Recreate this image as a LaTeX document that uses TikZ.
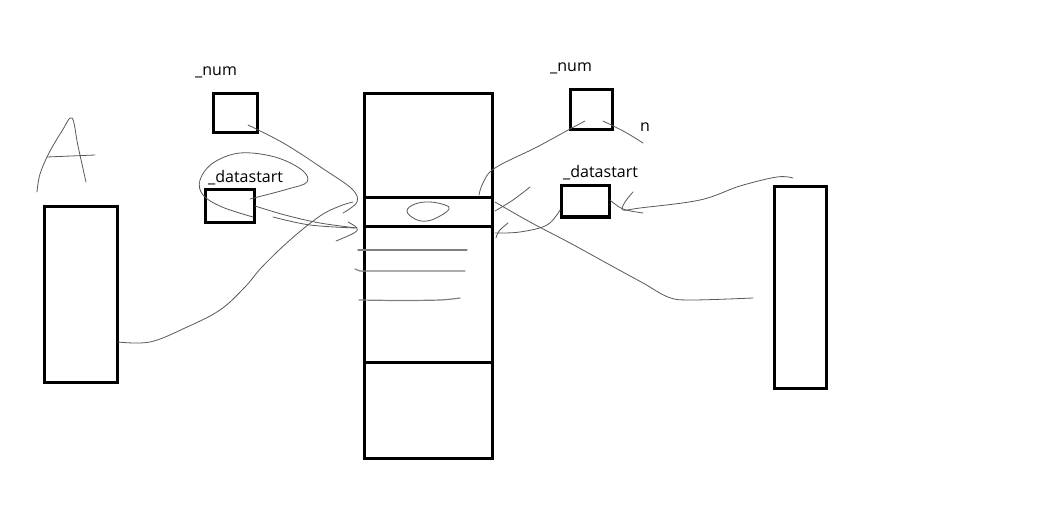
\documentclass[tikz,border=0pt]{standalone}
\usepackage{fontspec}
\setmainfont{Open Sans}
\begin{document}
\begin{tikzpicture}[x=1pt,y=-1pt,
  box/.style={draw=black,line width=3pt},
  pen/.style={draw=black!65,line width=0.8pt,line cap=round,line join=round},
  rule/.style={draw=black!50,line width=1.2pt,line cap=round},
  lbl/.style={anchor=base west,inner sep=0pt,font=\fontsize{16}{18}\selectfont}]
\useasboundingbox[fill=white] (0,0) rectangle (1049,513);
% boxes
\draw[box] (44,207) rectangle (117,382);       % A array
\draw[box] (213,94) rectangle (257,133);       % left _num
\draw[box] (205,190) rectangle (254,222);      % left _datastart
\draw[box] (364,94) rectangle (492,458);       % centre column
\draw[box] (364,198) -- (492,198);
\draw[box] (364,226) -- (492,226);
\draw[box] (364,362) -- (492,362);
\draw[box] (570,90) rectangle (612,130);       % right _num
\draw[box] (561,186) rectangle (609,217);      % right _datastart
\draw[box] (774,187) rectangle (826,388);      % right array
% labels
\node[lbl] (n1) at (195,76) {\_num};
\node[lbl] (d1) at (208,183) {\_datastart};
\node[lbl] (n2) at (550,72) {\_num};
\node[lbl] (d2) at (563,178) {\_datastart};
\node[lbl] (nn) at (640,132) {n};
% hand drawn A
\draw[pen] plot[smooth,tension=0.6] coordinates {(37,192) (40,174) (49,153) (62,131) (72,118) (78,146) (86,182)};
\draw[pen] (47,157) -- (95,155);
% blob
\draw[pen] plot[smooth cycle,tension=0.7] coordinates {(407,211) (415,204) (430,202) (445,205) (449,209) (440,216) (427,221) (415,219)};
% lines in the box
\draw[rule] (358,250) -- (467,250);
\draw[rule] (355,269) -- (360,271) -- (465,271);
\draw[rule] plot[smooth] coordinates {(359,300) (400,300.5) (440,300) (460,298)};
% curves left
\draw[pen] plot[smooth,tension=0.6] coordinates {(248,125) (285,144) (325,170) (352,189) (357,202) (343,213)};
\draw[pen] plot[smooth,tension=0.6] coordinates {(253,217) (222,207) (203,195) (200,180) (213,163) (240,153) (275,157) (302,170) (307,182) (288,189) (250,199)};
\draw[pen] plot[smooth,tension=0.6] coordinates {(255,206) (285,215) (320,223) (357,228)};
\draw[pen] plot[smooth,tension=0.6] coordinates {(273,217) (310,225) (355,228)};
\draw[pen] plot[smooth,tension=0.6] coordinates {(348,222) (357,228) (354,233) (336,241)};
\draw[pen] plot[smooth,tension=0.6] coordinates {(118,342) (150,342) (185,328) (220,310) (245,287) (262,267) (290,240) (320,216) (340,206) (353,202)};
% curves right
\draw[pen] plot[smooth,tension=0.6] coordinates {(585,121) (570,129) (537,147) (495,168) (483,183) (479,195)};
\draw[pen] plot[smooth,tension=0.6] coordinates {(603,121) (625,132) (643,143)};
\draw[pen] plot[smooth,tension=0.6] coordinates {(495,211) (513,200) (530,187)};
\draw[pen] plot[smooth,tension=0.6] coordinates {(495,233) (520,232) (547,225) (560,210)};
\draw[pen] plot[smooth,tension=0.6] coordinates {(508,223) (499,231) (496,238)};
\draw[pen] plot[smooth,tension=0.6] coordinates {(495,202) (530,222) (570,243) (610,265) (643,283) (668,297) (690,300) (753,298)};
\draw[pen] plot[smooth,tension=0.6] coordinates {(610,200) (623,209) (643,213)};
\draw[pen] plot[smooth,tension=0.6] coordinates {(633,192) (625,202) (623,210) (640,208) (700,200) (740,186) (777,177) (793,178)};
\end{tikzpicture}
\end{document}
